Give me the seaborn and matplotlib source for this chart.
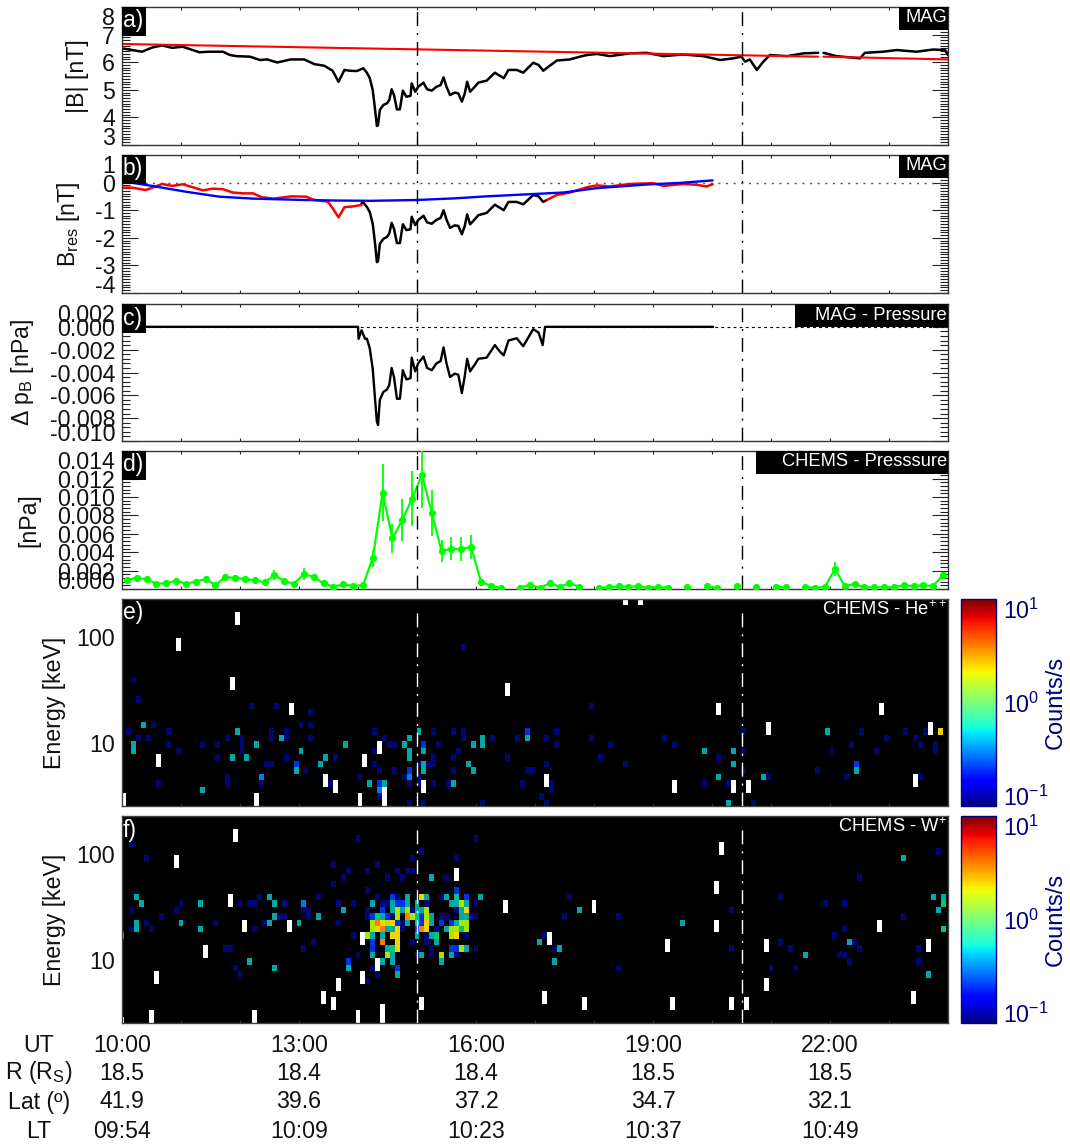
import numpy as np
import pandas as pd
import matplotlib
matplotlib.use('Agg')
import matplotlib.pyplot as plt
import seaborn as sns
from matplotlib.colors import LogNorm, LinearSegmentedColormap
from matplotlib.cm import ScalarMappable
from matplotlib.patches import Rectangle
from matplotlib.ticker import AutoMinorLocator, LogLocator, NullFormatter

# panel a) |B| measured
b_time_1 = [10.00, 10.17, 10.34, 10.51, 10.68, 10.85, 11.03, 11.20, 11.31, 11.48, 11.71, 11.83, 11.94, 12.17,
            12.34, 12.46, 12.63, 12.86, 13.09, 13.26, 13.43, 13.57, 13.67, 13.77, 13.86, 13.98, 14.09, 14.15,
            14.20, 14.25, 14.29, 14.32, 14.34, 14.37, 14.43, 14.49, 14.53, 14.57, 14.61, 14.66, 14.71, 14.76,
            14.82, 14.89, 14.91, 14.97, 15.02, 15.11, 15.17, 15.25, 15.33, 15.40, 15.45, 15.50, 15.56, 15.64,
            15.70, 15.76, 15.81, 15.85, 15.90, 15.98, 16.04, 16.18, 16.32, 16.41, 16.47, 16.55, 16.69, 16.80,
            16.97, 17.06, 17.14, 17.23, 17.37, 17.59, 17.76, 17.88, 18.05, 18.27, 18.61, 18.89, 19.18, 19.51,
            19.85, 20.14, 20.36, 20.50, 20.56, 20.64, 20.76, 20.87, 20.98, 21.27, 21.55, 21.80]
b_vals_1 = [6.50, 6.44, 6.38, 6.53, 6.61, 6.52, 6.56, 6.44, 6.36, 6.38, 6.38, 6.26, 6.22, 6.20,
            6.08, 6.10, 5.99, 6.10, 6.10, 5.93, 5.87, 5.69, 5.29, 5.72, 5.69, 5.68, 5.78, 5.62,
            5.42, 4.99, 4.27, 3.69, 3.72, 4.27, 4.45, 4.51, 4.63, 5.02, 4.81, 4.29, 4.29, 4.97,
            4.75, 4.78, 5.23, 4.93, 5.11, 5.26, 5.02, 4.97, 5.11, 5.17, 5.45, 5.11, 4.81, 4.90,
            4.87, 4.57, 4.87, 5.29, 4.93, 5.11, 5.26, 5.33, 5.62, 5.50, 5.42, 5.72, 5.72, 5.62,
            5.98, 5.90, 5.69, 5.84, 6.06, 6.10, 6.20, 6.26, 6.30, 6.22, 6.32, 6.34, 6.22, 6.28,
            6.22, 6.08, 6.14, 6.20, 6.02, 6.10, 5.72, 6.02, 6.26, 6.22, 6.32, 6.34]
b_time_2 = [21.89, 22.11, 22.51, 22.59, 22.90, 23.13, 23.47, 23.75, 23.95, 24.00]
b_vals_2 = [6.34, 6.22, 6.14, 6.34, 6.38, 6.44, 6.38, 6.46, 6.44, 6.26]

# panel a) model line, broken where the data has a gap
model_time_1 = [10.0, 21.80]
model_vals_1 = [6.66, 6.20]
model_time_2 = [21.89, 24.0]
model_vals_2 = [6.20, 6.10]

# panel b) residuals: red outside the event, black inside
res_red_time_1 = [10.00, 10.17, 10.40, 10.57, 10.68, 10.85, 11.03, 11.20, 11.37, 11.54, 11.71, 11.88, 12.05, 12.22,
                  12.37, 12.57, 12.86, 13.12, 13.26, 13.49, 13.57, 13.67, 13.77, 13.89, 14.06]
res_red_vals_1 = [-0.18, -0.18, -0.27, -0.14, -0.05, -0.12, -0.06, -0.17, -0.28, -0.22, -0.24, -0.36, -0.39, -0.39,
                  -0.53, -0.58, -0.50, -0.51, -0.63, -0.69, -0.93, -1.26, -0.89, -0.87, -0.81]
res_black_time = [14.06, 14.09, 14.15, 14.20, 14.25, 14.29, 14.32, 14.34, 14.37, 14.43, 14.49, 14.53, 14.57, 14.61,
                  14.66, 14.71, 14.76, 14.82, 14.89, 14.91, 14.97, 15.02, 15.11, 15.17, 15.25, 15.33, 15.40, 15.45,
                  15.50, 15.56, 15.64, 15.70, 15.76, 15.81, 15.85, 15.90, 15.98, 16.04, 16.18, 16.32, 16.41, 16.47,
                  16.55, 16.69, 16.80, 16.97, 17.06, 17.14, 17.20]
res_black_vals = [-0.75, -0.72, -0.88, -1.07, -1.50, -2.22, -2.88, -2.85, -2.22, -2.04, -1.97, -1.85, -1.46, -1.67,
                  -2.19, -2.19, -1.51, -1.72, -1.69, -1.24, -1.54, -1.36, -1.20, -1.44, -1.49, -1.35, -1.28, -1.00,
                  -1.34, -1.64, -1.55, -1.57, -1.87, -1.57, -1.15, -1.51, -1.33, -1.18, -1.10, -0.80, -0.92, -1.00,
                  -0.70, -0.70, -0.79, -0.45, -0.50, -0.70, -0.63]
res_red_time_2 = [17.20, 17.37, 17.59, 17.88, 18.05, 18.27, 18.61, 19.00, 19.18, 19.51, 19.74, 19.91, 20.01]
res_red_vals_2 = [-0.63, -0.45, -0.36, -0.17, -0.10, -0.14, -0.05, -0.02, -0.12, -0.05, -0.08, -0.14, -0.06]
fit_time = [10.15, 10.51, 11.08, 11.65, 12.22, 13.08, 13.65, 14.22, 15.00, 15.65, 16.16, 16.91, 17.48, 18.05,
            18.89, 19.46, 20.01]
fit_vals = [0.00, -0.12, -0.33, -0.51, -0.58, -0.63, -0.65, -0.66, -0.63, -0.57, -0.50, -0.42, -0.36, -0.20,
            -0.07, -0.01, 0.08]

# panel c) magnetic pressure deficit
dp_time = [10.0, 14.0, 14.01, 14.06, 14.12, 14.15, 14.20, 14.25, 14.29, 14.32, 14.34, 14.37, 14.43, 14.49, 14.53,
           14.57, 14.61, 14.66, 14.71, 14.76, 14.82, 14.89, 14.91, 14.97, 15.02, 15.11, 15.17, 15.25, 15.33, 15.40,
           15.45, 15.50, 15.56, 15.64, 15.70, 15.76, 15.81, 15.85, 15.90, 15.98, 16.04, 16.18, 16.32, 16.41, 16.47,
           16.55, 16.69, 16.80, 16.97, 17.06, 17.13, 17.17, 20.02]
dp_vals = [0.0, 0.0, -0.00105, -0.0003, -0.00105, -0.00104, -0.0019, -0.0037, -0.0064, -0.0083, -0.0086, -0.0064,
           -0.0057, -0.0055, -0.0051, -0.0036, -0.0044, -0.0063, -0.0063, -0.0038, -0.0046, -0.0045, -0.0027, -0.0039,
           -0.0032, -0.0026, -0.0036, -0.0038, -0.0032, -0.0030, -0.0018, -0.0032, -0.0044, -0.0041, -0.0042, -0.0058,
           -0.0043, -0.0028, -0.0039, -0.0033, -0.0028, -0.0027, -0.0016, -0.0022, -0.0025, -0.0012, -0.0010, -0.0017,
           -0.0002, -0.0005, -0.0016, 0.0, 0.0]

# panel d) CHEMS pressure, one value per 10 min from 10:05
chems_step_min = 10
chems_vals = [0.00098, 0.00123, 0.00105, 0.00058, 0.00061, 0.0009, 0.00058, 0.0008, 0.00108, 0.00043, 0.0013, 0.0012,
              0.00108, 0.00094, 0.00072, 0.00152, 0.00083, 0.00058, 0.00163, 0.0013, 0.00061, 0.00025, 0.0005, 0.00033,
              0.00043, 0.00333, 0.01045, 0.0055, 0.0075, 0.0098, 0.01244, 0.0083, 0.0041, 0.0044, 0.0043, 0.0046,
              0.0008, 0.00033, 0.00015, np.nan, 0.00015, 0.00043, 0.00015, 0.00062, 0.00025, 0.00062, 0.00025, np.nan,
              0.00014, 0.00018, 0.00029, 0.00025, 0.00029, 0.00014, 0.00022, 0.00014, np.nan, 0.00022, np.nan, 0.00029,
              0.00011, np.nan, 0.00036, np.nan, 0.00025, np.nan, 0.00022, 0.00018, np.nan, 0.00025, 0.00011, 0.00025,
              0.00217, 0.00033, 0.00054, 0.00018, 0.00018, 0.00018, 0.00018, 0.0004, 0.00033, 0.0004, 0.00033, 0.00152]
chems_errs = [0.0003, 0.0003, 0.0003, 0.0002, 0.0002, 0.0003, 0.0002, 0.0003, 0.0003, 0.0002, 0.0003, 0.0003,
              0.0003, 0.0003, 0.0002, 0.0005, 0.0003, 0.0002, 0.00065, 0.0003, 0.0002, 0.0001, 0.0002, 0.0001,
              0.0002, 0.00096, 0.0031, 0.0016, 0.0023, 0.003, 0.0036, 0.0025, 0.0012, 0.0013, 0.0013, 0.0013,
              0.0003, 0.0001, 0.0001, np.nan, 0.0001, 0.0002, 0.0001, 0.0002, 0.0001, 0.0002, 0.0001, np.nan,
              0.0001, 0.0001, 0.0001, 0.0001, 0.0001, 0.0001, 0.0001, 0.0001, np.nan, 0.0001, np.nan, 0.0001,
              0.0001, np.nan, 0.0002, np.nan, 0.0001, np.nan, 0.0001, 0.0001, np.nan, 0.0001, 0.0001, 0.0001,
              0.0008, 0.0001, 0.0002, 0.0001, 0.0001, 0.0001, 0.0001, 0.0002, 0.0001, 0.0002, 0.0001, 0.0003]

level_vals = {'navy': 0.11, 'blue': 0.2, 'azure': 0.3, 'teal': 0.45, 'green': 0.7, 'lime': 1.45, 'yellow': 2.1,
              'orange': 4.0}
n_rows = 32
n_cols = 169

he_cells = {
    'navy': [(2, 19), (3, 16), (26, 15), (31, 15), (38, 14), (36, 12), (38, 12), (6, 12), (1, 11), (9, 11), (30, 11),
             (30, 10), (33, 11), (33, 10), (3, 10), (5, 10), (21, 10), (24, 10), (24, 9), (24, 8), (38, 10), (9, 9),
             (16, 9), (19, 9), (11, 8), (19, 7), (33, 7), (43, 7), (29, 6), (30, 6), (37, 5), (7, 3), (21, 4), (21, 3),
             (28, 3), (48, 4), (42, 3), (52, 1), (51, 11), (53, 10), (51, 8), (54, 9), (55, 9), (51, 6), (52, 5),
             (55, 5), (57, 4), (58, 3), (58, 0), (60, 6), (60, 4), (60, 3), (63, 11), (67, 11), (69, 11), (69, 10),
             (64, 9), (63, 7), (62, 6), (63, 6), (67, 7), (68, 8), (67, 5), (75, 10), (80, 10), (78, 7), (82, 5),
             (81, 3), (63, 3), (66, 3), (61, 0), (73, 0), (69, 24), (88, 11), (86, 10), (88, 9), (86, 6), (95, 15),
             (95, 10), (99, 9), (97, 7), (102, 6), (110, 10), (112, 9), (121, 7), (126, 11), (126, 8), (126, 5),
             (118, 3), (123, 3), (131, 4), (87, 3), (87, 2), (85, 1), (86, 0), (128, 0), (150, 11), (159, 11),
             (155, 10), (161, 10), (163, 11), (148, 9), (162, 9), (144, 8), (153, 8), (165, 9), (165, 8), (141, 5),
             (147, 4), (162, 4), (83, 5)],
    'blue': [(35, 6), (52, 3), (58, 5), (61, 9), (82, 11), (149, 6)],
    'azure': [(28, 4), (58, 4), (52, 2)],
    'teal': [(4, 12), (23, 11), (32, 10), (2, 9), (2, 8), (27, 9), (45, 9), (36, 8), (22, 7), (25, 7), (41, 7), (35, 5),
             (40, 6), (16, 2), (50, 3), (53, 3), (57, 9), (58, 10), (58, 8), (58, 7), (60, 11), (61, 8), (61, 6),
             (61, 5), (70, 6), (71, 5), (71, 9), (73, 10), (73, 9), (82, 10), (67, 3), (118, 8), (124, 8), (124, 6),
             (121, 4), (130, 4), (123, 0), (143, 11), (149, 5)],
    'yellow': [(166, 11)],
}
# (column, first row, last row) of the white bars
he_white = [(23, 28, 29), (11, 24, 25), (22, 18, 19), (34, 14, 15), (78, 17, 18), (52, 8, 9), (7, 6, 7), (49, 6, 7),
            (41, 3, 4), (43, 2, 3), (61, 2, 3), (53, 0, 2), (0, 0, 1), (27, 0, 1), (48, 0, 1), (121, 14, 15),
            (154, 14, 15), (131, 11, 12), (164, 11, 12), (86, 3, 4), (112, 2, 3), (124, 2, 3), (127, 2, 3),
            (161, 3, 4), (102, 31, 31), (105, 31, 31)]

w_cells = {
    'navy': [(48, 28), (72, 28), (61, 26), (2, 27), (5, 25), (43, 24), (52, 24), (59, 25), (68, 25), (46, 23), (50, 23),
             (56, 23), (58, 23), (59, 23), (45, 22), (54, 22), (57, 22), (66, 22), (43, 21), (50, 20), (2, 17),
             (12, 18), (11, 17), (8, 16), (24, 18), (26, 18), (27, 18), (28, 19), (33, 18), (37, 17), (38, 17), (40, 19),
             (44, 18), (47, 18), (38, 16), (32, 16), (33, 16), (44, 15), (29, 15), (19, 15), (5, 15), (2, 14), (6, 14),
             (27, 14), (39, 12), (47, 13), (37, 11), (21, 11), (22, 11), (48, 10), (23, 8), (24, 7), (50, 6),
             (52, 19), (56, 19), (65, 19), (53, 18), (54, 18), (62, 18), (72, 18), (50, 17), (59, 17), (68, 17),
             (50, 16), (55, 16), (65, 16), (66, 16), (71, 16), (72, 16), (57, 15), (57, 14), (64, 14), (62, 13),
             (70, 13), (59, 12), (62, 12), (63, 11), (72, 11), (60, 10), (63, 10), (68, 10), (51, 8), (52, 7),
             (91, 19), (90, 16), (101, 16), (124, 17), (134, 19), (143, 18), (147, 18), (159, 16), (150, 22),
             (166, 26), (86, 13), (88, 11), (101, 8), (124, 11), (134, 12), (136, 11), (132, 8), (137, 8), (145, 13),
             (147, 14), (149, 12), (150, 11), (146, 10), (147, 10), (148, 9), (162, 11), (162, 9)],
    'blue': [(46, 9), (55, 19), (70, 19), (56, 18), (57, 18), (53, 17), (51, 16), (54, 16), (61, 16), (56, 15), (61, 15),
             (65, 15), (67, 15), (60, 14), (51, 12), (51, 11), (67, 11), (68, 11), (56, 8), (68, 20)],
    'azure': [(37, 18)],
    'teal': [(3, 19), (4, 18), (16, 18), (30, 19), (31, 18), (45, 17), (40, 16), (31, 16), (30, 15), (36, 15), (12, 15),
             (3, 15), (3, 14), (16, 14), (0, 13), (26, 9), (31, 8), (46, 8), (63, 22), (58, 19), (62, 19), (66, 19),
             (73, 19), (51, 18), (55, 18), (58, 18), (60, 18), (67, 18), (68, 18), (70, 18), (55, 17), (57, 17),
             (60, 17), (61, 17), (69, 17), (53, 16), (63, 16), (69, 16), (70, 16), (58, 15), (60, 15), (63, 15),
             (68, 15), (54, 14), (55, 14), (66, 14), (51, 13), (53, 13), (60, 13), (63, 13), (64, 12), (54, 11),
             (70, 11), (51, 10), (55, 10), (61, 10), (67, 10), (53, 9), (55, 9), (65, 9), (56, 7), (93, 17), (114, 15),
             (165, 19), (167, 19), (166, 17), (159, 25), (85, 12), (89, 11), (88, 9), (139, 10), (148, 12), (164, 7)],
    'green': [(68, 19), (52, 16), (60, 16), (69, 14), (64, 13), (55, 11), (167, 18), (167, 14)],
    'lime': [(69, 18), (56, 17), (58, 17), (62, 17), (56, 16), (59, 16), (62, 16), (51, 15), (54, 15), (69, 15), (70, 15),
             (51, 14), (67, 14), (68, 14), (70, 14), (50, 13), (67, 13), (69, 11), (54, 10), (65, 10)],
    'yellow': [(61, 19), (70, 17), (53, 15), (55, 15), (62, 15), (52, 14), (56, 14), (62, 14), (55, 13), (56, 13),
               (68, 13), (56, 12), (56, 11)],
    'orange': [(58, 16), (52, 15), (53, 14), (61, 14), (53, 12)],
}
w_white = [(23, 28, 29), (11, 24, 25), (22, 18, 19), (25, 14, 15), (34, 14, 15), (17, 10, 11), (7, 6, 7), (68, 22, 23),
           (78, 17, 18), (49, 12, 13), (52, 8, 9), (49, 6, 7), (44, 5, 6), (41, 3, 4), (43, 2, 3), (61, 2, 3),
           (53, 0, 2), (6, 0, 1), (27, 0, 1), (48, 0, 1), (0, 0, 0), (122, 26, 27), (121, 20, 21), (96, 17, 18),
           (121, 14, 15), (154, 14, 15), (87, 12, 13), (111, 11, 12), (131, 11, 12), (164, 11, 12), (131, 5, 6),
           (86, 3, 4), (94, 2, 3), (112, 2, 3), (124, 2, 3), (127, 2, 3), (161, 3, 4)]

# bottom table
table_hours = [10, 13, 16, 19, 22]
table_rows = {
    'UT': ['10:00', '13:00', '16:00', '19:00', '22:00'],
    'R (R$_{\\mathrm{S}}$)': ['18.5', '18.4', '18.4', '18.5', '18.5'],
    'Lat (º)': ['41.9', '39.6', '37.2', '34.7', '32.1'],
    'LT': ['09:54', '10:09', '10:23', '10:37', '10:49'],
}
event_times = [15.0, 20.5]

sns.set_theme(style='ticks')
plt.rcParams['font.family'] = ['Liberation Sans', 'DejaVu Sans']
plt.rcParams['mathtext.fontset'] = 'custom'
plt.rcParams['mathtext.rm'] = 'Liberation Sans'
plt.rcParams['mathtext.default'] = 'regular'
plt.rcParams['axes.unicode_minus'] = False

FIG_W, FIG_H = 1070, 1145
FS = 16.7
NAVY = '#000080'
RED = '#FF0000'
BLUE = '#0000FF'
LIME = '#00FF00'
LEFT, RIGHT = 122, 948

fig = plt.figure(figsize=(FIG_W / 100, FIG_H / 100), dpi=100)


def px_axes(top, bottom, left=LEFT, right=RIGHT):
    return fig.add_axes([left / FIG_W, 1 - bottom / FIG_H, (right - left) / FIG_W, (bottom - top) / FIG_H])


def draw_line(ax, x, y, color, lw=1.8):
    df = pd.DataFrame({'t': x, 'v': y})
    sns.lineplot(data=df, x='t', y='v', color=color, linewidth=lw, estimator=None, sort=False, ax=ax, legend=False)


def tags(ax, left_text, right_text, right_box_px, top, bottom, white_only=False):
    # panel letter top left and instrument name top right, black boxes on the line panels
    h = bottom - top
    w = RIGHT - LEFT
    if not white_only:
        ax.add_patch(Rectangle((0, 1 - 29 / h), 24 / w, 29 / h, transform=ax.transAxes, color='black', zorder=6,
                               clip_on=False, lw=0))
        ax.add_patch(Rectangle((1 - right_box_px / w, 1 - 23 / h), right_box_px / w, 23 / h, transform=ax.transAxes,
                               color='black', zorder=6, clip_on=False, lw=0))
    ax.text(1 / w, 1 - 14 / h, left_text, transform=ax.transAxes, color='white', fontsize=16.5, ha='left',
            va='center', zorder=7)
    ax.text(1 - 1 / w, 1 - 11 / h, right_text, transform=ax.transAxes, color='white', fontsize=13.2, ha='right',
            va='center', zorder=7)


def style_line_axes(ax, ylim, major, minor_div, fmt, label, label_px):
    ax.set_xlim(10, 24)
    ax.set_ylim(*ylim)
    ax.set_xticks(range(11, 24))
    ax.set_xticklabels([])
    n = int(np.floor((ylim[1] - ylim[0]) / major + 1e-6)) + 1
    ticks = [ylim[0] + i * major for i in range(n)]
    ax.set_yticks(ticks)
    ax.set_yticklabels([fmt.format(t) for t in ticks])
    ax.yaxis.set_minor_locator(AutoMinorLocator(minor_div))
    ax.tick_params(axis='x', which='major', direction='in', top=True, bottom=True, length=2.2, width=0.8,
                   color='#222222')
    ax.tick_params(axis='y', which='major', direction='in', left=True, right=True, length=11.5, width=0.8,
                   labelsize=FS, pad=5, color='#222222', labelcolor='#111111')
    ax.tick_params(axis='y', which='minor', direction='in', left=True, right=True, length=5.8, width=0.8,
                   color='#222222')
    ax.set_xlabel('')
    ax.set_ylabel(label, fontsize=FS, color='#111111', va='center')
    ax.yaxis.set_label_coords((label_px - LEFT) / (RIGHT - LEFT), 0.5)
    for s in ax.spines.values():
        s.set_visible(True)
        s.set_linewidth(1.0)
        s.set_color('#333333')
    # the edge labels are pulled inside the panel
    labels = ax.get_yticklabels()
    labels[0].set_va('baseline')
    if abs(ticks[-1] - ylim[1]) < 1e-9:
        labels[-1].set_va('top')
    for t in event_times:
        ax.axvline(t, color='black', lw=1.0, ls=(0, (10, 5, 1.5, 5)), zorder=5)


# ---- a) |B|
top, bottom = 7, 145
ax_a = px_axes(top, bottom)
draw_line(ax_a, b_time_1, b_vals_1, 'black')
draw_line(ax_a, b_time_2, b_vals_2, 'black')
draw_line(ax_a, model_time_1, model_vals_1, RED, 1.5)
draw_line(ax_a, model_time_2, model_vals_2, RED, 1.5)
style_line_axes(ax_a, (3, 8), 1, 10, '{:.0f}', '|B| [nT]', 78)
tags(ax_a, 'a)', 'MAG', 49, top, bottom)

# ---- b) residual field
top, bottom = 155, 293
ax_b = px_axes(top, bottom)
ax_b.axhline(0, color='#555555', lw=1.0, ls=(0, (1.5, 4)))
draw_line(ax_b, res_black_time, res_black_vals, 'black')
draw_line(ax_b, res_red_time_1, res_red_vals_1, RED)
draw_line(ax_b, res_red_time_2, res_red_vals_2, RED)
draw_line(ax_b, fit_time, fit_vals, BLUE, 1.7)
style_line_axes(ax_b, (-4, 1), 1, 10, '{:.0f}', 'B$_{\\mathrm{res}}$ [nT]', 69)
tags(ax_b, 'b)', 'MAG', 49, top, bottom)

# ---- c) magnetic pressure
top, bottom = 304, 441
ax_c = px_axes(top, bottom)
ax_c.axhline(0, color='black', lw=0.8, ls=(0, (2.5, 3)))
draw_line(ax_c, dp_time, dp_vals, 'black', 1.7)
style_line_axes(ax_c, (-0.010, 0.002), 0.002, 5, '{:.3f}', '$\\Delta$ p$_{\\mathrm{B}}$ [nPa]', 23)
tags(ax_c, 'c)', 'MAG - Pressure', 153, top, bottom)

# ---- d) CHEMS pressure
top, bottom = 451, 589
ax_d = px_axes(top, bottom)
chems_t = np.array([10 + (5 + chems_step_min * i) / 60 for i in range(len(chems_vals))])
chems_v = np.array(chems_vals)
chems_e = np.array(chems_errs)
ok = ~np.isnan(chems_v)
ax_d.vlines(chems_t[ok], (chems_v - chems_e)[ok], (chems_v + chems_e)[ok], color=LIME, lw=1.3, zorder=3)
seg_id = np.cumsum(~ok)
for sid in np.unique(seg_id[ok]):
    pick = ok & (seg_id == sid)
    sns.lineplot(x=chems_t[pick], y=chems_v[pick], color=LIME, linewidth=1.6, marker='o', markersize=5.2,
                 markeredgewidth=0, estimator=None, ax=ax_d, legend=False, zorder=4)
style_line_axes(ax_d, (0, 0.015), 0.002, 5, '{:.3f}', '[nPa]', 29)
tags(ax_d, 'd)', 'CHEMS - Presssure', 192, top, bottom)

# ---- e), f) spectrograms
e_lo, e_hi = 2.5, 230
data_colors = [(0.0, (0, 0, 100)), (0.15, (0, 50, 230)), (0.239, (0, 125, 235)), (0.327, (0, 170, 165)),
               (0.423, (0, 200, 120)), (0.58, (170, 230, 0)), (0.661, (240, 215, 0)), (0.8, (255, 130, 0)),
               (0.9, (255, 0, 0)), (1.0, (130, 0, 0))]
cell_cmap = LinearSegmentedColormap.from_list('cells', [(p, tuple(c / 255 for c in rgb)) for p, rgb in data_colors])
cell_cmap.set_over('white')


def spectrogram(top, bottom, cells, white, left_text, right_text, x0):
    ax = px_axes(top, bottom)
    ax.set_facecolor('black')
    grid = np.full((n_rows, n_cols), np.nan)
    for level, items in cells.items():
        for col, row in items:
            grid[row, col] = level_vals[level]
    for col, r0, r1 in white:
        grid[r0:r1 + 1, col] = 1000.0  # above the scale, drawn white
    sns.heatmap(grid, cmap=cell_cmap, norm=LogNorm(0.1, 10), cbar=False, xticklabels=False, yticklabels=False, ax=ax)
    ax.set_xlim(x0, x0 + 168)
    ax.set_ylim(0, n_rows)
    e_ticks = [10, 100]
    ax.set_yticks([n_rows * np.log10(e / e_lo) / np.log10(e_hi / e_lo) for e in e_ticks])
    ax.set_yticklabels([str(e) for e in e_ticks], rotation=0)
    ax.set_xticks([x0 + 12 * h for h in range(1, 14)])
    ax.set_xticklabels([])
    ax.tick_params(axis='y', direction='in', length=8, width=0.8, labelsize=FS, pad=5, color='black',
                   labelcolor='#111111')
    ax.tick_params(axis='x', direction='in', length=2, width=0.8, color='#333333', top=False)
    ax.set_xlabel('')
    ax.set_ylabel('Energy [keV]', fontsize=FS, color='#111111', va='center')
    ax.yaxis.set_label_coords((55 - LEFT) / (RIGHT - LEFT), 0.5)
    for s in ax.spines.values():
        s.set_visible(True)
        s.set_linewidth(1.0)
        s.set_color('#444444')
    for t in event_times:
        ax.axvline(x0 + 12 * (t - 10), ymax=0.96, color='white', lw=1.0, ls=(0, (10, 5, 1.5, 5)), zorder=5)
    tags(ax, left_text, right_text, 0, top, bottom, white_only=True)
    return ax


def colorbar(top, bottom):
    cax = px_axes(top, bottom, left=961, right=996)
    cb = fig.colorbar(ScalarMappable(LogNorm(0.1, 10), 'jet'), cax=cax)
    cb.outline.set_edgecolor(NAVY)
    cb.outline.set_linewidth(1.0)
    cb.set_ticks([0.1, 1, 10])
    cb.set_ticklabels(['10$^{-1}$', '10$^{0}$', '10$^{1}$'])
    cax.yaxis.set_minor_locator(LogLocator(base=10, subs=range(2, 10)))
    cax.yaxis.set_minor_formatter(NullFormatter())
    cax.tick_params(axis='y', which='major', direction='in', length=4.5, width=0.8, color=NAVY, labelcolor=NAVY,
                    labelsize=FS, pad=5)
    cax.tick_params(axis='y', which='minor', direction='in', length=2.2, width=0.8, color=NAVY)
    labels = cax.get_yticklabels()
    labels[0].set_va('baseline')
    labels[-1].set_va('top')
    fig.text(1056 / FIG_W, 1 - (top + bottom) / 2 / FIG_H, 'Counts/s', color=NAVY, fontsize=17, rotation=90,
             ha='center', va='center')


ax_e = spectrogram(599, 806, he_cells, he_white, 'e)', 'CHEMS - He$^{++}$', 0.1)
colorbar(599, 806)
ax_f = spectrogram(816, 1023, w_cells, w_white, 'f)', 'CHEMS - W$^{+}$', 0.5)
colorbar(816, 1023)

# ---- bottom table
row_y = [1045, 1073, 1102, 1131]
for y, (name, values) in zip(row_y, table_rows.items()):
    fig.text(39 / FIG_W, 1 - y / FIG_H, name, fontsize=FS, color='#111111', ha='center', va='center')
    for h, val in zip(table_hours, values):
        fig.text((LEFT + 59 * (h - 10)) / FIG_W, 1 - y / FIG_H, val, fontsize=FS, color='#111111', ha='center',
                 va='center')

fig.savefig('out.png', dpi=100)
